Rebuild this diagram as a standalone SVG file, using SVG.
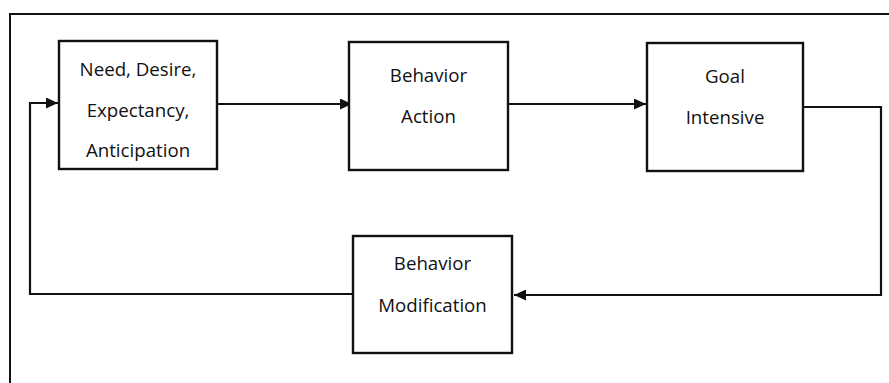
<svg xmlns="http://www.w3.org/2000/svg" width="889" height="383" viewBox="0 0 889 383">
  <style>
    .box { fill: #ffffff; stroke: #111111; stroke-width: 2.4; }
    .wire { fill: none; stroke: #111111; stroke-width: 2.2; }
    .frame { fill: none; stroke: #111111; stroke-width: 2; }
    text { font-family: "Open Sans", "Liberation Sans", sans-serif; font-size: 18.7px; fill: #111111; text-anchor: middle; }
  </style>
  <defs>
    <marker id="arrow" viewBox="0 0 12 11" refX="12" refY="5.5" markerWidth="12" markerHeight="11" markerUnits="userSpaceOnUse" orient="auto">
      <path d="M0,0 L12,5.5 L0,11 Z" fill="#111111"/>
    </marker>
  </defs>

  <!-- outer frame -->
  <path class="frame" d="M10,383 L10,14 L889,14"/>

  <g id="connectors">
    <path class="wire" d="M217,104 L352,104" marker-end="url(#arrow)"/>
    <path class="wire" d="M508,104 L646,104" marker-end="url(#arrow)"/>
    <path class="wire" d="M803,107 L881,107 L881,295 L514,295" marker-end="url(#arrow)"/>
    <path class="wire" d="M352,294 L30,294 L30,103 L58,103" marker-end="url(#arrow)"/>
  </g>

  <g id="need">
    <rect class="box" x="59" y="41" width="158" height="128"/>
    <text x="138" y="76">Need, Desire,</text>
    <text x="138" y="117">Expectancy,</text>
    <text x="138" y="157">Anticipation</text>
  </g>

  <g id="behavior-action">
    <rect class="box" x="349" y="42" width="159" height="128"/>
    <text x="428.5" y="82">Behavior</text>
    <text x="428.5" y="123">Action</text>
  </g>

  <g id="goal">
    <rect class="box" x="647" y="43" width="156" height="128"/>
    <text x="725" y="83">Goal</text>
    <text x="725" y="124">Intensive</text>
  </g>

  <g id="behavior-modification">
    <rect class="box" x="353" y="236" width="159" height="117"/>
    <text x="432.5" y="270">Behavior</text>
    <text x="432.5" y="312">Modification</text>
  </g>
</svg>
